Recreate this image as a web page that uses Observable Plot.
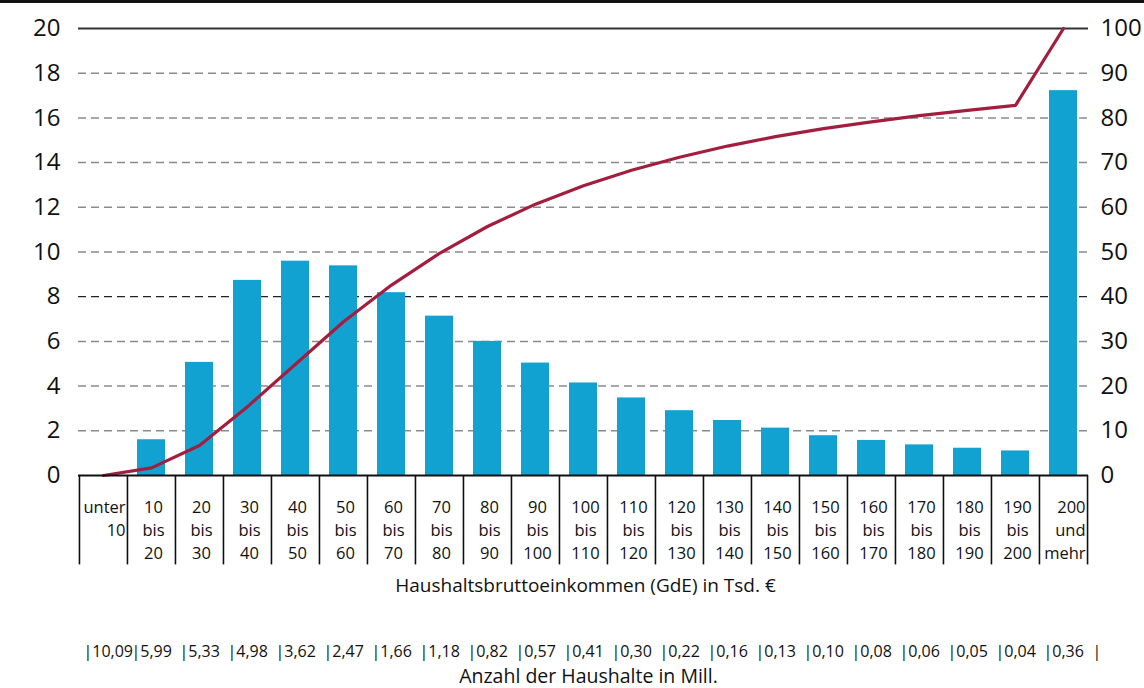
<!DOCTYPE html>
<html>
<head>
<meta charset="utf-8">
<script src="https://cdn.jsdelivr.net/npm/d3@7"></script>
<script src="https://cdn.jsdelivr.net/npm/@observablehq/plot@0.6"></script>
<style>
  html, body { margin: 0; padding: 0; background: #fff; }
  #wrap { width: 1144px; border-top: 3px solid #111; }
  #wrap svg { display: block; }
</style>
</head>
<body>
<div id="wrap"></div>
<script>
// Income classes (Haushaltsbruttoeinkommen in Tsd. €)
const categories = ["unter 10", "10 bis 20", "20 bis 30", "30 bis 40", "40 bis 50", "50 bis 60",
  "60 bis 70", "70 bis 80", "80 bis 90", "90 bis 100", "100 bis 110", "110 bis 120",
  "120 bis 130", "130 bis 140", "140 bis 150", "150 bis 160", "160 bis 170", "170 bis 180",
  "180 bis 190", "190 bis 200", "200 und mehr"];
// Bars: share per class (left axis, %)
const shares = [0, 1.6, 5.06, 8.73, 9.59, 9.38, 8.18, 7.13, 6.0, 5.03, 4.14, 3.47, 2.9,
  2.46, 2.12, 1.78, 1.57, 1.37, 1.22, 1.1, 17.22];
// Line: cumulative share (right axis, %)
const cumulative = [0, 1.7, 6.7, 15.4, 24.9, 34.4, 42.6, 49.7, 55.7, 60.7, 64.8, 68.3, 71.2,
  73.7, 75.8, 77.6, 79.1, 80.5, 81.7, 82.8, 100];
// Anzahl der Haushalte in Mill.
const households = ["10,09", "5,99", "5,33", "4,98", "3,62", "2,47", "1,66", "1,18", "0,82",
  "0,57", "0,41", "0,30", "0,22", "0,16", "0,13", "0,10", "0,08", "0,06", "0,05", "0,04", "0,36"];
const leftTicks = d3.range(0, 21, 2);
const rightTickLabel = d => d * 5;  // right axis 0–100 mapped onto 0–20

const xTitle = "Haushaltsbruttoeinkommen (GdE) in Tsd. €";
const countTitle = "Anzahl der Haushalte in Mill.";

const W = 1144, H = 685, mL = 78, mR = 56, mT = 25, mB = 213;
const bw = (W - mL - mR) / categories.length;
const FONT = "'Open Sans', 'Noto Sans', sans-serif";

const rows = categories.map((c, i) => ({cat: c, share: shares[i], cum: cumulative[i], hh: households[i]}));

// label lines for the table under the x axis
const labelRows = [];
categories.forEach((c, i) => {
  const parts = c.split(" ");
  const right = (i === 0 || i === categories.length - 1);
  parts.forEach((p, k) => labelRows.push({cat: c, text: p, line: k, right}));
});

const lineDy = [32, 55, 78];
const LBL = 16.5;

const labelMarks = [];
[0, 1, 2].forEach(k => {
  labelMarks.push(Plot.text(labelRows.filter(r => r.line === k && !r.right), {
    x: "cat", text: "text", frameAnchor: "bottom", dy: lineDy[k], dx: 2,
    textAnchor: "middle", lineAnchor: "middle", fontSize: LBL, fill: "#111"
  }));
  labelMarks.push(Plot.text(labelRows.filter(r => r.line === k && r.right), {
    x: "cat", text: "text", frameAnchor: "bottom", dy: lineDy[k], dx: bw / 2 - 2,
    textAnchor: "end", lineAnchor: "middle", fontSize: LBL, fill: "#111"
  }));
});

const chart = Plot.plot({
  width: W, height: H,
  marginLeft: mL, marginRight: mR, marginTop: mT, marginBottom: mB,
  style: {fontFamily: FONT, background: "white", color: "#111", overflow: "visible"},
  x: {type: "band", domain: categories, padding: 0, axis: null},
  y: {domain: [0, 20], axis: null},
  marks: [
    Plot.ruleY(leftTicks.filter(d => d > 0 && d < 20 && d !== 8), {stroke: "#8a8a8a", strokeWidth: 1.5, strokeDasharray: "8,5"}),
    Plot.ruleY([8], {stroke: "#222", strokeWidth: 1.3, strokeDasharray: "8,5"}),
    Plot.ruleY([20], {stroke: "#333", strokeWidth: 2}),
    Plot.barY(rows, {x: "cat", y: "share", fill: "#12a2d1", insetLeft: 10, insetRight: 10}),
    Plot.line(rows, {x: "cat", y: d => d.cum / 5, stroke: "#a31e3e", strokeWidth: 3.2, strokeLinejoin: "miter"}),
    Plot.ruleY([0], {stroke: "#111", strokeWidth: 2}),
    Plot.axisY({anchor: "left", label: null, ticks: leftTicks, tickSize: 0, tickPadding: 18, fontSize: 24, fill: "#111"}),
    Plot.axisY({anchor: "right", label: null, ticks: leftTicks, tickFormat: rightTickLabel, tickSize: 0, tickPadding: 12, fontSize: 24, fill: "#111"}),
    // table grid lines below the axis
    Plot.ruleX(categories, {x: d => d, dx: -bw / 2, y1: 0, y2: -4, stroke: "#111", strokeWidth: 1.6}),
    Plot.ruleX([categories[categories.length - 1]], {x: d => d, dx: bw / 2, y1: 0, y2: -4, stroke: "#111", strokeWidth: 1.6}),
    ...labelMarks,
    Plot.text([xTitle], {text: d => d, frameAnchor: "bottom", dy: 110, dx: 2, fontSize: 19, fill: "#111", lineAnchor: "middle"}),
    // household counts row
    Plot.text(rows, {x: "cat", text: d => "|" + d.hh, frameAnchor: "bottom", dy: 176, dx: -bw / 2 + 4,
      textAnchor: "start", lineAnchor: "middle", fontSize: 16, fill: "#111"}),
    Plot.text([categories[categories.length - 1]], {x: d => d, text: () => "|", frameAnchor: "bottom", dy: 176, dx: bw / 2 + 5,
      textAnchor: "start", lineAnchor: "middle", fontSize: 16, fill: "#111"}),
    Plot.text([countTitle], {text: d => d, frameAnchor: "bottom", dy: 201, dx: 5, fontSize: 19.5, fill: "#111", lineAnchor: "middle"})
  ]
});
document.getElementById("wrap").appendChild(chart);
</script>
</body>
</html>
